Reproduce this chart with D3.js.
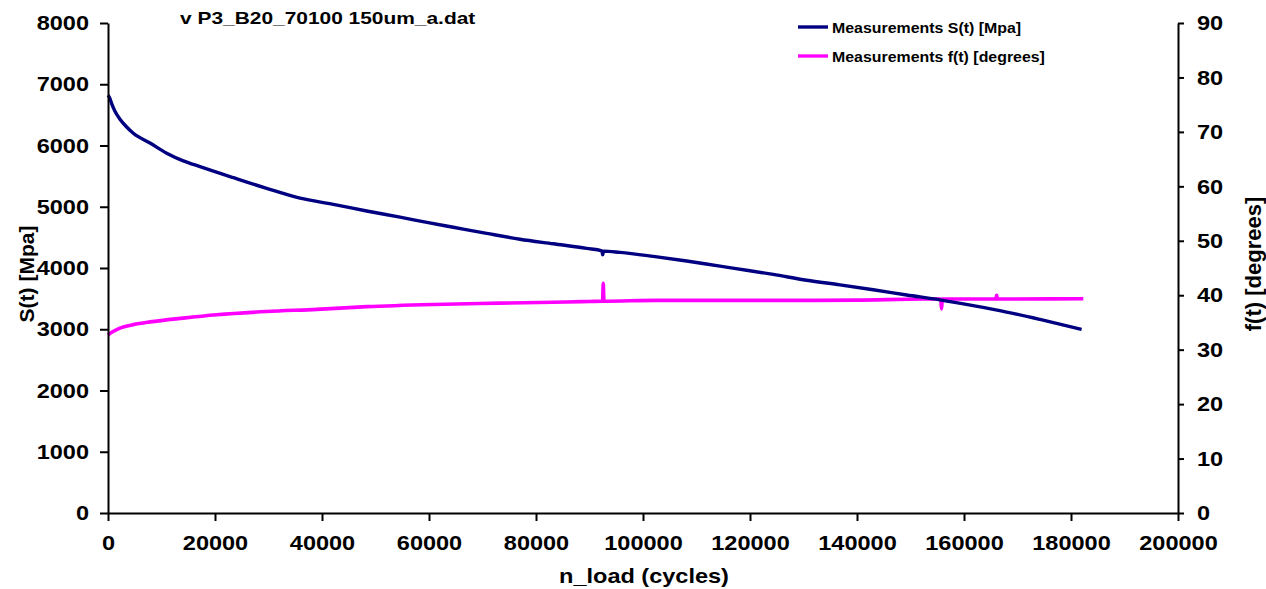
<!DOCTYPE html>
<html>
<head>
<meta charset="utf-8">
<script src="https://cdn.jsdelivr.net/npm/d3@7"></script>
<style>
  html, body { margin: 0; padding: 0; background: #fff; }
  svg text { font-family: "Liberation Sans", Arial, sans-serif; font-weight: bold; fill: #000; }
</style>
</head>
<body>
<svg id="chart" width="1266" height="589"></svg>
<script>
// Load cycles for the stress series and stress values (MPa)
const sCycles = [0, 300, 700, 1300, 2240, 3400, 4730, 7850, 10970, 14070, 17200, 23420, 29660,
  35890, 42110, 48350, 54580, 59860, 64540, 70780, 77000, 83230, 89470, 92300, 92460, 92620,
  95690, 101920, 108160, 114380, 119670, 124340, 130590, 136810, 143030, 149280, 155500,
  161720, 167970, 174190, 181980];
const sValues = [6820, 6780, 6680, 6560, 6430, 6310, 6200, 6040, 5875, 5750, 5655, 5475, 5300,
  5140, 5040, 4930, 4830, 4740, 4665, 4565, 4470, 4395, 4320, 4280, 4215, 4276,
  4255, 4190, 4115, 4030, 3960, 3895, 3800, 3725, 3645, 3560, 3480,
  3385, 3280, 3160, 2999];

// Load cycles for the angle series and angle values (degrees)
const fCycles = [0, 700, 1630, 3000, 4730, 7850, 14070, 20320, 29660, 39010, 48350, 60800, 73270,
  85730, 90000, 92450, 92570, 92700, 102540, 115000, 127470, 139930, 152390, 155650, 155800,
  155950, 165950, 166100, 166250, 182300];
const fValues = [32.7, 33.2, 33.7, 34.2, 34.6, 35.1, 35.8, 36.4, 37.0, 37.4, 37.9, 38.3, 38.55,
  38.75, 38.85, 38.9, 42.2, 38.9, 39.05, 39.05, 39.05, 39.1, 39.3, 39.3, 37.5,
  39.3, 39.3, 40.0, 39.3, 39.35];

// Axis ticks
const xTicks = [0, 20000, 40000, 60000, 80000, 100000, 120000, 140000, 160000, 180000, 200000];
const yLeftTicks = [0, 1000, 2000, 3000, 4000, 5000, 6000, 7000, 8000];
const yRightTicks = [0, 10, 20, 30, 40, 50, 60, 70, 80, 90];

const titleText = "v P3_B20_70100 150um_a.dat";
const seriesNames = ["Measurements S(t) [Mpa]", "Measurements f(t) [degrees]"];
const seriesColors = ["#000080", "#ff00ff"];

const svg = d3.select("#chart");
const plotLeft = 108, plotRight = 1178, plotTop = 23, plotBottom = 513;

const x = d3.scaleLinear().domain([0, 200000]).range([plotLeft, plotRight]);
const yL = d3.scaleLinear().domain([0, 8000]).range([plotBottom, plotTop]);
const yR = d3.scaleLinear().domain([0, 90]).range([plotBottom, plotTop]);

// widen glyphs slightly along the reading direction
function widen(sel, k) {
  sel.each(function () {
    const w = this.getComputedTextLength();
    this.setAttribute("textLength", (w * k).toFixed(1));
    this.setAttribute("lengthAdjust", "spacingAndGlyphs");
  });
}

// series lines
const sData = sCycles.map((c, i) => [c, sValues[i]]);
const fData = fCycles.map((c, i) => [c, fValues[i]]);

svg.append("path")
  .datum(fData)
  .attr("fill", "none")
  .attr("stroke", seriesColors[1])
  .attr("stroke-width", 3.6)
  .attr("stroke-linejoin", "round")
  .attr("d", d3.line().x(d => x(d[0])).y(d => yR(d[1])).curve(d3.curveMonotoneX));

svg.append("path")
  .datum(sData)
  .attr("fill", "none")
  .attr("stroke", seriesColors[0])
  .attr("stroke-width", 3.4)
  .attr("stroke-linejoin", "round")
  .attr("d", d3.line().x(d => x(d[0])).y(d => yL(d[1])).curve(d3.curveMonotoneX));

// axes
function styleAxis(g) {
  g.select(".domain").attr("stroke", "#000").attr("stroke-width", 2);
  g.selectAll(".tick line").attr("stroke", "#000").attr("stroke-width", 2);
  g.selectAll(".tick text").style("font-size", "21px").attr("fill", "#000");
}

const gx = svg.append("g").attr("transform", `translate(0,${plotBottom})`)
  .call(d3.axisBottom(x).tickValues(xTicks).tickFormat(d3.format("d")).tickSizeInner(8).tickSizeOuter(0).tickPadding(9));
styleAxis(gx);
gx.selectAll(".tick text").attr("dy", "0.95em");

const gl = svg.append("g").attr("transform", `translate(${plotLeft},0)`)
  .call(d3.axisLeft(yL).tickValues(yLeftTicks).tickFormat(d3.format("d")).tickSizeInner(8).tickSizeOuter(0).tickPadding(11));
styleAxis(gl);

const gr = svg.append("g").attr("transform", `translate(${plotRight},0)`)
  .call(d3.axisRight(yR).tickValues(yRightTicks).tickFormat(d3.format("d")).tickSizeInner(6).tickSizeOuter(0).tickPadding(13));
styleAxis(gr);

widen(svg.selectAll(".tick text"), 1.12);

// axis titles
const xt = svg.append("text").attr("x", 644).attr("y", 583).attr("text-anchor", "middle")
  .style("font-size", "21px").text("n_load (cycles)");
widen(xt, 1.12);

svg.append("text").attr("transform", "translate(34,274) rotate(-90)").attr("text-anchor", "middle")
  .style("font-size", "21px").text("S(t) [Mpa]");
svg.append("text").attr("transform", "translate(1261,264) rotate(-90)").attr("text-anchor", "middle")
  .style("font-size", "22px").text("f(t) [degrees]");

// chart title
const tt = svg.append("text").attr("x", 180).attr("y", 24).style("font-size", "17px").text(titleText);
widen(tt, 1.23);

// legend
const legendY = [27, 56];
seriesNames.forEach((name, i) => {
  svg.append("line").attr("x1", 798).attr("x2", 828).attr("y1", legendY[i]).attr("y2", legendY[i])
    .attr("stroke", seriesColors[i]).attr("stroke-width", 3.4);
  const t = svg.append("text").attr("x", 832).attr("y", legendY[i] + 6).style("font-size", "15px").text(name);
  widen(t, 1.06);
});
</script>
</body>
</html>
